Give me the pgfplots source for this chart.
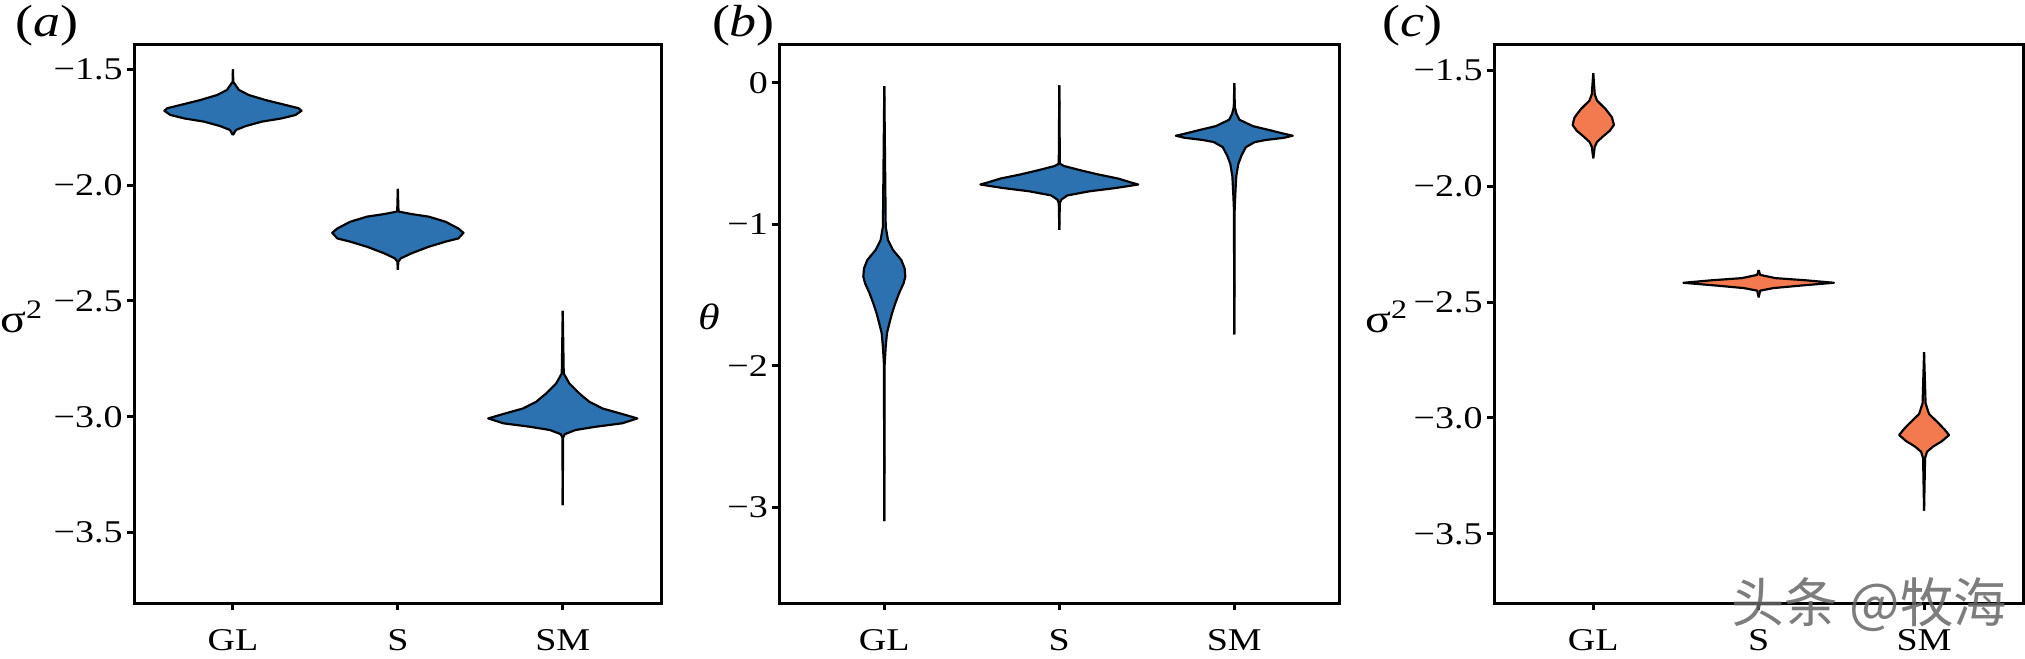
\documentclass[border=0pt]{standalone}
\usepackage{fontspec}
\setmainfont{Liberation Serif}[FakeStretch=1.2]
\newfontfamily\cjk{Noto Sans CJK SC}
\usepackage{pgfplots}
\pgfplotsset{compat=1.18}
\usepackage{pgfplotstable}
\usepgfplotslibrary{fillbetween}
\definecolor{vblue}{RGB}{44,114,176}
\definecolor{vorange}{RGB}{243,122,78}

% violin outlines: y, half width (category units)
\pgfplotstableread{
y w
-1.500 0
-1.554 0.002
-1.589 0.036
-1.611 0.096
-1.633 0.199
-1.654 0.319
-1.668 0.398
-1.679 0.416
-1.697 0.380
-1.712 0.295
-1.726 0.175
-1.745 0.078
-1.762 0.018
-1.784 0
}\aGL
\pgfplotstableread{
y w
-2.016 0
-2.114 0.004
-2.125 0.084
-2.136 0.187
-2.158 0.289
-2.187 0.367
-2.206 0.398
-2.230 0.367
-2.244 0.289
-2.266 0.187
-2.294 0.084
-2.316 0.018
-2.330 0.003
-2.366 0
}\aS
\pgfplotstableread{
y w
-2.543 0
-2.813 0.006
-2.856 0.040
-2.899 0.100
-2.935 0.161
-2.964 0.241
-2.988 0.361
-3.007 0.452
-3.028 0.361
-3.043 0.199
-3.057 0.078
-3.075 0.012
-3.090 0.002
-3.381 0
}\aSM
\pgfplotstableread{
y w
-0.023 0
-1.017 0.008
-1.111 0.021
-1.182 0.050
-1.252 0.097
-1.311 0.116
-1.370 0.120
-1.417 0.110
-1.488 0.084
-1.558 0.063
-1.629 0.044
-1.700 0.029
-1.770 0.015
-1.865 0.008
-1.990 0.002
-3.097 0
}\bGL
\pgfplotstableread{
y w
-0.018 0
-0.560 0.003
-0.573 0.005
-0.588 0.026
-0.618 0.120
-0.648 0.223
-0.677 0.337
-0.701 0.400
-0.719 0.451
-0.743 0.326
-0.767 0.171
-0.796 0.046
-0.826 0.011
-0.850 0.003
-1.040 0
}\bS
\pgfplotstableread{
y w
-0.003 0
-0.172 0.003
-0.217 0.012
-0.261 0.029
-0.306 0.105
-0.336 0.206
-0.359 0.280
-0.374 0.334
-0.389 0.283
-0.404 0.181
-0.419 0.117
-0.455 0.066
-0.514 0.041
-0.573 0.023
-0.662 0.011
-0.781 0.006
-0.900 0.002
-1.777 0
}\bSM
\pgfplotstableread{
y w
-1.513 0
-1.604 0.009
-1.631 0.023
-1.667 0.074
-1.703 0.113
-1.736 0.125
-1.761 0.100
-1.785 0.060
-1.809 0.023
-1.830 0.009
-1.880 0
}\cGL
\pgfplotstableread{
y w
-2.362 0
-2.383 0.009
-2.397 0.102
-2.406 0.280
-2.417 0.455
-2.429 0.256
-2.440 0.089
-2.451 0.009
-2.480 0
}\cS
\pgfplotstableread{
y w
-2.716 0
-2.937 0.009
-2.983 0.030
-3.019 0.082
-3.047 0.120
-3.074 0.151
-3.101 0.107
-3.123 0.056
-3.146 0.018
-3.174 0.006
-3.400 0
}\cSM

\pgfplotsset{
  violinaxis/.style={
    scale only axis, set layers,
    height=167.7pt,
    xmin=0.4, xmax=3.6,
    xtick={1,2,3}, xticklabels={GL,S,SM},
    tick align=outside, major tick length=2.1pt,
    xtick pos=bottom, ytick pos=left,
    axis line style={line width=0.9pt},
    major tick style={black, line width=0.9pt},
    tick label style={font=\fontsize{9.5}{11}\selectfont},
    yticklabel shift=-2.2pt, xticklabel shift=2.2pt,
    ylabel style={rotate=-90, anchor=center},
  },
  vline/.style={black, line width=0.65pt, line join=round, forget plot},
}

\begin{document}
\begin{tikzpicture}

% (a)
\begin{axis}[violinaxis, at={(40.2pt,16.71pt)}, anchor=south west, width=158.31pt,
  ymin=-3.805, ymax=-1.392,
  ytick={-3.5,-3,-2.5,-2,-1.5}, yticklabels={−3.5,−3.0,−2.5,−2.0,−1.5},
  ylabel={σ\textsuperscript{2}},
  ylabel style={font=\fontsize{12}{14}\selectfont, at={(axis description cs:-0.212,0.512)}}]
\addplot[vline, name path=r1] table[x expr=1+\thisrow{w}, y=y]{\aGL};
\addplot[vline, name path=l1] table[x expr=1-\thisrow{w}, y=y]{\aGL};
\addplot[fill=vblue] fill between[of=r1 and l1];
\addplot[vline, name path=r2] table[x expr=2+\thisrow{w}, y=y]{\aS};
\addplot[vline, name path=l2] table[x expr=2-\thisrow{w}, y=y]{\aS};
\addplot[fill=vblue] fill between[of=r2 and l2];
\addplot[vline, name path=r3] table[x expr=3+\thisrow{w}, y=y]{\aSM};
\addplot[vline, name path=l3] table[x expr=3-\thisrow{w}, y=y]{\aSM};
\addplot[fill=vblue] fill between[of=r3 and l3];
\end{axis}

% (b)
\begin{axis}[violinaxis, at={(233.79pt,16.71pt)}, anchor=south west, width=168pt,
  ymin=-3.678, ymax=0.272,
  ytick={-3,-2,-1,0}, yticklabels={−3,−2,−1,0},
  ylabel={\itshape θ},
  ylabel style={font=\fontsize{11}{13}\selectfont, at={(axis description cs:-0.1255,0.512)}}]
\addplot[vline, name path=r1] table[x expr=1+\thisrow{w}, y=y]{\bGL};
\addplot[vline, name path=l1] table[x expr=1-\thisrow{w}, y=y]{\bGL};
\addplot[fill=vblue] fill between[of=r1 and l1];
\addplot[vline, name path=r2] table[x expr=2+\thisrow{w}, y=y]{\bS};
\addplot[vline, name path=l2] table[x expr=2-\thisrow{w}, y=y]{\bS};
\addplot[fill=vblue] fill between[of=r2 and l2];
\addplot[vline, name path=r3] table[x expr=3+\thisrow{w}, y=y]{\bSM};
\addplot[vline, name path=l3] table[x expr=3-\thisrow{w}, y=y]{\bSM};
\addplot[fill=vblue] fill between[of=r3 and l3];
\end{axis}

% (c)
\begin{axis}[violinaxis, at={(448.2pt,16.71pt)}, anchor=south west, width=158.79pt,
  ymin=-3.80, ymax=-1.388,
  ytick={-3.5,-3,-2.5,-2,-1.5}, yticklabels={−3.5,−3.0,−2.5,−2.0,−1.5},
  ylabel={σ\textsuperscript{2}},
  ylabel style={font=\fontsize{12}{14}\selectfont, at={(axis description cs:-0.202,0.512)}}]
\addplot[vline, name path=r1] table[x expr=1+\thisrow{w}, y=y]{\cGL};
\addplot[vline, name path=l1] table[x expr=1-\thisrow{w}, y=y]{\cGL};
\addplot[fill=vorange] fill between[of=r1 and l1];
\addplot[vline, name path=r2] table[x expr=2+\thisrow{w}, y=y]{\cS};
\addplot[vline, name path=l2] table[x expr=2-\thisrow{w}, y=y]{\cS};
\addplot[fill=vorange] fill between[of=r2 and l2];
\addplot[vline, name path=r3] table[x expr=3+\thisrow{w}, y=y]{\cSM};
\addplot[vline, name path=l3] table[x expr=3-\thisrow{w}, y=y]{\cSM};
\addplot[fill=vorange] fill between[of=r3 and l3];
\end{axis}

\begin{scope}[every node/.style={font=\fontsize{13.5}{15}\selectfont, anchor=west, inner sep=0pt}]
\node at (4.6pt,190pt) {(\textit{a})};
\node at (213.4pt,190pt) {(\textit{b})};
\node at (414.6pt,190pt) {(\textit{c})};
\end{scope}
\node[font=\cjk\fontsize{16}{17}\selectfont, text=black!60, opacity=0.85, inner sep=0pt] at (560.7pt,16.2pt) {头条 @牧海};

\pgfresetboundingbox
\path[use as bounding box] (0,0) rectangle (607.5pt,197.7pt);
\end{tikzpicture}
\end{document}
